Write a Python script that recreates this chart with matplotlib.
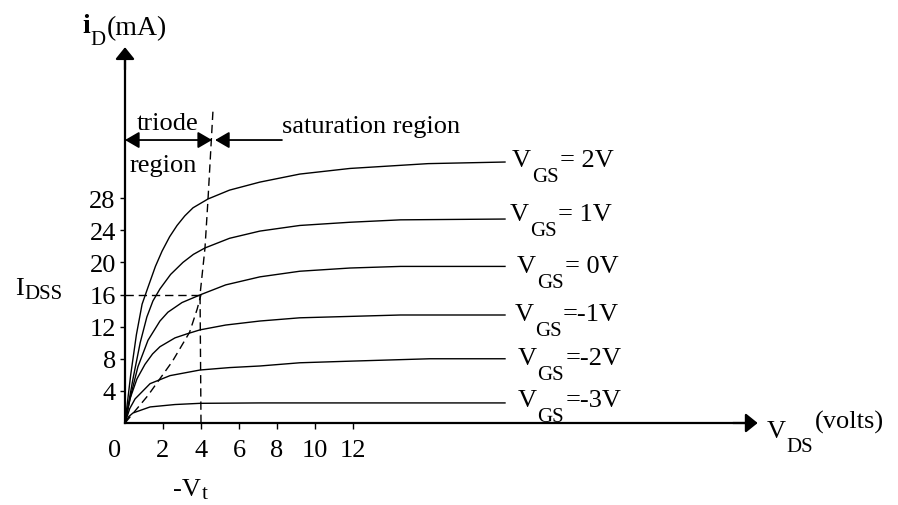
#!/usr/bin/env python3
import matplotlib
matplotlib.use('Agg')
from matplotlib import pyplot as plt

plt.rcParams['font.family'] = ['Liberation Serif', 'DejaVu Serif']

# drain characteristics: V_DS (volts) and i_D (mA)
vgs_labels = ['= 2V', '= 1V', '= 0V', '=-1V', '=-2V', '=-3V']

vds_2v = [0, 0.3, 0.6, 0.9, 1.21, 1.6, 1.95, 2.35, 2.74, 3.15, 3.58, 4.37, 5.5, 7.1, 9.2, 11.84, 15.95, 20]
id_2v = [0, 6.0, 11.0, 14.8, 16.9, 19.5, 21.4, 23.2, 24.6, 25.8, 26.8, 27.9, 29.0, 30.0, 31.0, 31.7, 32.3, 32.5]

vds_1v = [0, 0.42, 0.8, 1.15, 1.47, 1.84, 2.4, 3.05, 3.6, 4.21, 5.5, 7.1, 9.2, 11.84, 14.5, 20]
id_1v = [0, 5.5, 10.0, 13.2, 15.2, 16.7, 18.5, 20.0, 21.0, 21.8, 23.0, 23.9, 24.6, 25.0, 25.3, 25.4]

vds_0v = [0, 0.32, 0.68, 1.21, 1.84, 2.26, 3.0, 4.0, 5.3, 7.1, 9.2, 11.84, 14.5, 20]
id_0v = [0, 3.6, 7.0, 10.3, 12.7, 13.8, 15.0, 16.0, 17.2, 18.2, 18.9, 19.3, 19.5, 19.5]

vds_m1v = [0, 0.26, 0.63, 1.05, 1.45, 1.84, 2.63, 3.26, 3.95, 5.3, 7.1, 9.2, 14.5, 20]
id_m1v = [0, 3.0, 5.5, 7.3, 8.6, 9.5, 10.6, 11.1, 11.6, 12.2, 12.7, 13.1, 13.45, 13.45]

vds_m2v = [0, 0.25, 0.53, 1.32, 2.37, 3.95, 5.5, 7.1, 9.2, 11.84, 16.05, 20]
id_m2v = [0, 1.8, 3.0, 4.9, 5.9, 6.6, 6.9, 7.1, 7.5, 7.7, 8.0, 8.0]

vds_m3v = [0, 0.2, 0.42, 1.32, 2.63, 3.95, 7.1, 20]
id_m3v = [0, 0.8, 1.25, 2.0, 2.3, 2.45, 2.5, 2.5]

curves = [(vds_2v, id_2v), (vds_1v, id_1v), (vds_0v, id_0v),
          (vds_m1v, id_m1v), (vds_m2v, id_m2v), (vds_m3v, id_m3v)]

# pinch-off guides
idss = 16
vt_neg = 4
edge_vds = [4.0, 3.95, 4.21, 4.37, 4.63]
edge_id = [0, 16.0, 21.8, 27.9, 38.9]
locus_vds = [0, 1.2, 2.5, 3.4, 3.8, 4.0]
locus_id = [0, 3.4, 7.7, 11.3, 14.2, 16.0]

x_ticks = [2, 4, 6, 8, 10, 12]
y_ticks = [4, 8, 12, 16, 20, 24, 28]

fig = plt.figure(figsize=(8.98, 5.06), dpi=100)
ax = fig.add_axes([0, 0, 1, 1])
ax.set_xlim(-125 / 19, 773 / 19)
ax.set_ylim(-82 / 8.03, 424 / 8.03)

# axes through the origin, with arrow heads
for s in ['top', 'right']:
    ax.spines[s].set_visible(False)
ax.spines['left'].set_position(('data', 0))
ax.spines['bottom'].set_position(('data', 0))
ax.spines['left'].set_bounds(0, 45.5)
ax.spines['bottom'].set_bounds(0, 32.8)
ax.spines['left'].set_linewidth(1.6)
ax.spines['bottom'].set_linewidth(1.6)
head = dict(arrowstyle='-|>,head_length=0.72,head_width=0.58', mutation_scale=10,
            color='k', lw=1.6, shrinkA=0, shrinkB=0)
ax.annotate('', xy=(0, 46.8), xytext=(0, 44), arrowprops=head)
ax.annotate('', xy=(33.3, 0), xytext=(32, 0), arrowprops=head)

ax.set_xticks(x_ticks)
ax.set_xticklabels([str(v) for v in x_ticks])
ax.set_yticks(y_ticks)
ax.set_yticklabels([str(v) for v in y_ticks])
ax.tick_params(axis='x', direction='out', length=4.3, width=1, pad=7, labelsize=19)
ax.tick_params(axis='y', direction='out', length=3.6, width=1, pad=3, labelsize=19)
ax.annotate('0', xy=(-0.53, 0), xytext=(0, -11.3), textcoords='offset points',
            ha='center', va='top', fontsize=19)

for vx, vy in curves:
    ax.plot(vx, vy, color='k', lw=1.0)

dash = dict(color='k', lw=1.0, dashes=(6, 3.5))
ax.plot([0, vt_neg], [idss, idss], **dash)
ax.plot(edge_vds, edge_id, **dash)
ax.plot(locus_vds, locus_id, **dash)


def sub_text(x, y, main, sub, rest='', size=19, subsize=15, drop=11, rise=0, weight='normal'):
    t = ax.text(x, y, main, fontsize=size, va='baseline', ha='left', fontweight=weight)
    s = ax.annotate(sub, xy=(1, y), xycoords=(t, 'data'), xytext=(0.5, -drop),
                    textcoords='offset points', fontsize=subsize, va='baseline', ha='left')
    if rest:
        ax.annotate(rest, xy=(1, y), xycoords=(s, 'data'), xytext=(1, rise),
                    textcoords='offset points', fontsize=size, va='baseline', ha='left')


label_xy = [(20.37, 32.0), (20.26, 25.3), (20.63, 18.8),
            (20.53, 12.8), (20.68, 7.35), (20.68, 2.1)]
for (lx, ly), txt in zip(label_xy, vgs_labels):
    sub_text(lx, ly, 'V', 'GS', txt)

sub_text(-2.26, 48.7, 'i', 'D', '(mA)', size=20, drop=8.6, rise=-1.4, weight='bold')
sub_text(33.79, -1.74, 'V', 'DS', '(volts)', subsize=15, drop=10, rise=7, size=19)
sub_text(-5.79, 16.07, 'I', 'DSS', subsize=15, drop=3)
sub_text(2.53, -9.0, '-V', 't', subsize=15, drop=2)

# triode / saturation region markers
ax.text(0.63, 36.6, 'triode', fontsize=19, va='baseline')
ax.text(0.26, 31.4, 'region', fontsize=19, va='baseline')
ax.text(8.26, 36.2, 'saturation region', fontsize=19, va='baseline')
ax.annotate('', xy=(4.58, 35.24), xytext=(0, 35.24),
            arrowprops=dict(arrowstyle='<|-|>,head_length=0.86,head_width=0.5',
                            mutation_scale=10, color='k', lw=1.3, shrinkA=0, shrinkB=0))
ax.annotate('', xy=(4.74, 35.24), xytext=(8.26, 35.24),
            arrowprops=dict(arrowstyle='-|>,head_length=0.86,head_width=0.5',
                            mutation_scale=10, color='k', lw=1.3, shrinkA=0, shrinkB=0))

plt.savefig('out.png', dpi=100, facecolor='white')
